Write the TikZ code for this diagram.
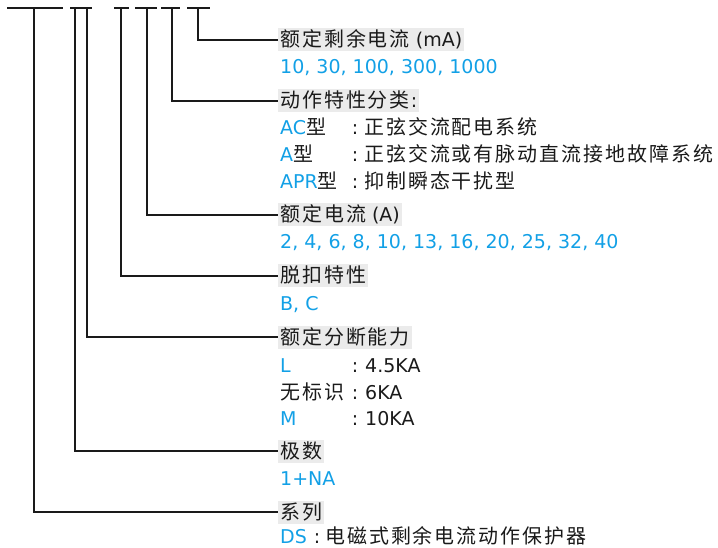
\documentclass[tikz,border=0pt]{standalone}
\usepackage{fontspec}
\setmainfont{DejaVu Sans}
\newfontfamily\cjkfnt[Scale=1.05,LetterSpace=10]{Noto Sans CJK SC}
\newcommand\zhs[1]{{\cjkfnt #1}}
\newcommand\mybasefnt{\fontsize{19}{22}\selectfont}
\definecolor{abbblue}{RGB}{18,160,230}
\definecolor{headgray}{RGB}{235,235,235}
\definecolor{textblack}{RGB}{26,26,26}
\tikzset{
  head/.style={fill=headgray, inner xsep=2pt, inner ysep=0pt, minimum height=23pt,
    anchor=west, text=textblack, font=\mybasefnt, text height=14pt, text depth=0pt},
  val/.style={anchor=west, inner sep=0pt, text=abbblue, font=\mybasefnt,
    text height=14pt, text depth=0pt},
  txt/.style={anchor=west, inner sep=0pt, text=textblack, font=\mybasefnt,
    text height=14pt, text depth=0pt},
  colon/.style={anchor=center, inner sep=0pt, text=textblack, font=\mybasefnt,
    text height=14pt, text depth=0pt},
  conn/.style={line width=1.6pt, draw=textblack},
}
\begin{document}
\begin{tikzpicture}[x=1pt,y=-1pt]
\useasboundingbox (0,0) rectangle (718,548);
% top bar segments
\coordinate (s1a) at (7,8);   \coordinate (s1b) at (63,8);
\coordinate (s2a) at (70,8);  \coordinate (s2b) at (92,8);
\coordinate (s3a) at (114,8); \coordinate (s3b) at (129,8);
\coordinate (s4a) at (135,8); \coordinate (s4b) at (157,8);
\coordinate (s5a) at (161,8); \coordinate (s5b) at (180,8);
\coordinate (s6a) at (187,8); \coordinate (s6b) at (210,8);
\foreach \i in {1,...,6} {\draw[conn] (s\i a) -- (s\i b);}
% vertical starts
\coordinate (v1) at (34,8);
\coordinate (v2) at (75,8);
\coordinate (v3) at (87,8);
\coordinate (v4) at (121,8);
\coordinate (v5) at (147,8);
\coordinate (v6) at (172,8);
\coordinate (v7) at (198,8);

% headings
\node[head] (h1) at (278,40)  {\zhs{额定剩余电流} (mA)};
\node[head] (h2) at (278,101) {\zhs{动作特性分类}\hspace{1pt}:\hspace{7pt}};
\node[head] (h3) at (278,215) {\zhs{额定电流} (A)};
\node[head] (h4) at (278,276) {\zhs{脱扣特性}};
\node[head] (h5) at (278,337) {\zhs{额定分断能力}};
\node[head] (h6) at (278,451) {\zhs{极数}};
\node[head] (h7) at (278,512) {\zhs{系列}};

% connectors
\draw[conn] (v7) |- (h1.west);
\draw[conn] (v6) |- (h2.west);
\draw[conn] (v5) |- (h3.west);
\draw[conn] (v4) |- (h4.west);
\draw[conn] (v3) |- (h5.west);
\draw[conn] (v2) |- (h6.west);
\draw[conn] (v1) |- (h7.west);

% values
\node[val] (r1) at (280,67) {10, 30, 100, 300, 1000};

\node[val] (ac) at (280,128) {AC{\color{textblack}\zhs{型}}};
\node[colon] (acc) at (355,128) {:};
\node[txt] (act) at (364,128) {\zhs{正弦交流配电系统}};

\node[val] (a) at (280,155) {A{\color{textblack}\zhs{型}}};
\node[colon] (ac2) at (355,155) {:};
\node[txt] (at) at (364,155) {\zhs{正弦交流或有脉动直流接地故障系统}};

\node[val] (apr) at (280,182) {APR{\color{textblack}\zhs{型}}};
\node[colon] (aprc) at (355,182) {:};
\node[txt] (aprt) at (364,182) {\zhs{抑制瞬态干扰型}};

\node[val] (r3) at (280,242) {2, 4, 6, 8, 10, 13, 16, 20, 25, 32, 40};
\node[val] (r4) at (280,303) {B, C};

\node[val] (l) at (280,365) {L};
\node[colon] (lc) at (355,365) {:};
\node[txt] (lt) at (365,365) {4.5KA};

\node[txt] (n) at (280,392) {\zhs{无标识}};
\node[colon] (nc) at (355,392) {:};
\node[txt] (nt) at (365,392) {6KA};

\node[val] (m) at (280,418) {M};
\node[colon] (mc) at (355,418) {:};
\node[txt] (mt) at (365,418) {10KA};

\node[val] (r6) at (280,478) {1+NA};

\node[val] (ds) at (280,536) {DS};
\node[colon] (dsc) at (317,536) {:};
\node[txt] (dst) at (325,536) {\zhs{电磁式剩余电流动作保护器}};
\end{tikzpicture}
\end{document}
